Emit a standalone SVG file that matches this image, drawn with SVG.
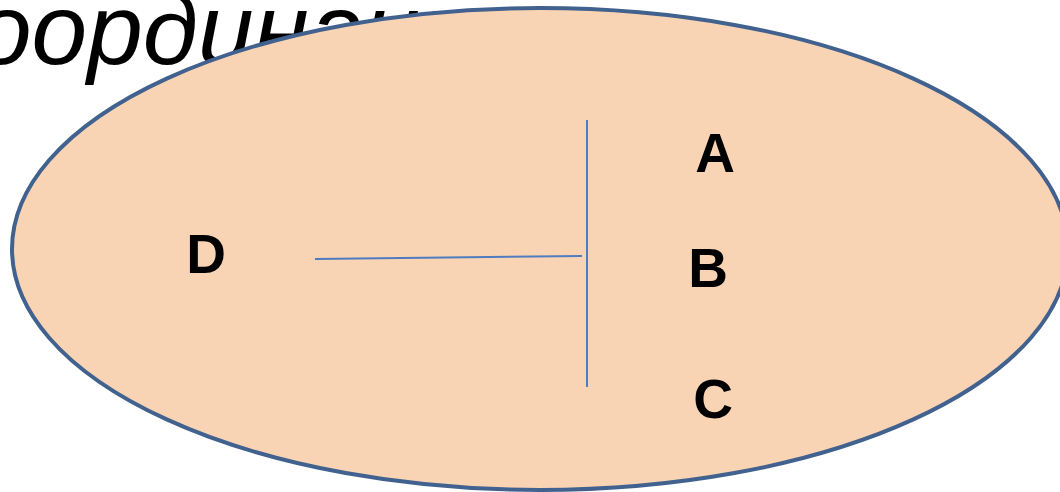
<svg xmlns="http://www.w3.org/2000/svg" width="1060" height="492" viewBox="0 0 1060 492">
<style>
.title{font-family:"Liberation Sans",Arial,sans-serif;font-style:italic;font-size:100px;fill:#000}
.lbl{font-family:"Liberation Sans",Arial,sans-serif;font-weight:bold;font-size:55px;fill:#000;text-anchor:middle}
.ln{stroke:#4F7CC0;stroke-width:2;fill:none}
</style>
<rect width="1060" height="492" fill="#fff"/>
<text class="title" x="-83" y="64">Координация</text>
<g id="ellipse"><ellipse cx="540" cy="249" rx="528" ry="241" fill="#F9D4B4" stroke="#41618F" stroke-width="4"/></g>
<g id="connectors">
<line class="ln" x1="315" y1="259" x2="582" y2="256"/>
<line class="ln" x1="587" y1="120" x2="587" y2="387"/>
</g>
<g id="node-D"><text class="lbl" x="206" y="273">D</text></g>
<g id="node-A"><text class="lbl" x="715" y="172">A</text></g>
<g id="node-B"><text class="lbl" x="708" y="287">B</text></g>
<g id="node-C"><text class="lbl" x="713" y="418">C</text></g>
</svg>
